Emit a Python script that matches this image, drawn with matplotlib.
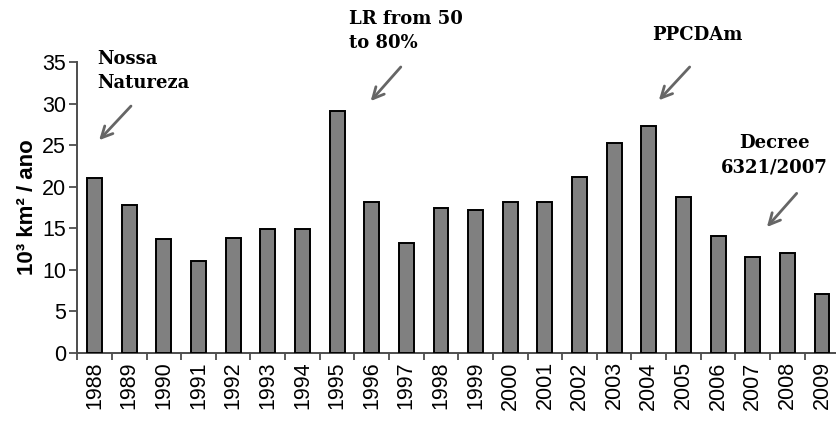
import matplotlib
matplotlib.use("Agg")
import matplotlib.pyplot as plt
import numpy as np

years = ["1988", "1989", "1990", "1991", "1992", "1993", "1994", "1995", "1996", "1997", "1998",
         "1999", "2000", "2001", "2002", "2003", "2004", "2005", "2006", "2007", "2008", "2009"]
values = [21.0, 17.8, 13.75, 11.05, 13.8, 14.9, 14.9, 29.05, 18.15, 13.2, 17.4,
          17.25, 18.2, 18.15, 21.2, 25.3, 27.35, 18.8, 14.05, 11.55, 12.0, 7.1]
yticks = [0, 5, 10, 15, 20, 25, 30, 35]

# annotations: text, text anchor (x, y), ha, arrow tail (x, y), arrow head (x, y)
annotations = [
    ("Nossa\nNatureza", (0.07, 36.45), "left", (1.05, 29.7), (0.13, 25.6)),
    ("LR from 50\nto 80%", (7.33, 41.3), "left", (8.84, 34.4), (7.97, 30.3)),
    ("PPCDAm", (16.09, 39.35), "left", (17.18, 34.4), (16.29, 30.4)),
    ("Decree\n6321/2007", (19.63, 26.35), "center", (20.27, 19.2), (19.41, 15.15)),
]

W, H = 836, 421
fig = plt.figure(figsize=(W / 100, H / 100), dpi=100)
ax = fig.add_axes([77.3 / W, 68 / H, 762 / W, 291 / H])

x = np.arange(len(years))
ax.bar(x, values, width=0.43, color="#808080", edgecolor="black", linewidth=1.4, zorder=3)

ax.set_xlim(-0.5, len(years) - 0.5)
ax.set_ylim(0, 35)
ax.set_yticks(yticks)
ax.set_yticklabels([str(v) for v in yticks], fontsize=15.5, family="Liberation Sans")
ax.set_xticks(x)
ax.set_xticklabels(years, rotation=90, fontsize=15.5, family="Liberation Sans")
ax.set_xticks(np.arange(len(years) + 1) - 0.5, minor=True)
ax.tick_params(axis="x", which="major", length=0, pad=6)
ax.tick_params(axis="x", which="minor", length=5, width=1.3, color="#4d4d4d", direction="out")
ax.tick_params(axis="y", length=6, width=1.3, color="#4d4d4d", direction="out", pad=2)

for s in ["top", "right"]:
    ax.spines[s].set_visible(False)
for s in ["left", "bottom"]:
    ax.spines[s].set_color("#4d4d4d")
    ax.spines[s].set_linewidth(1.4)

ax.set_ylabel("10³ km² / ano", fontsize=16, fontweight="bold", family="Liberation Sans", labelpad=3)

for txt, (tx, ty), ha, tail, head in annotations:
    ax.text(tx, ty, txt, ha=ha, va="top", fontsize=13, fontweight="bold",
            family="DejaVu Serif", linespacing=1.45, clip_on=False)
    ax.annotate("", xy=head, xytext=tail, xycoords="data", textcoords="data",
                annotation_clip=False,
                arrowprops=dict(arrowstyle="->,head_length=0.8,head_width=0.4",
                                color="#666666", lw=2.0, shrinkA=0, shrinkB=0))

fig.savefig("out.png", dpi=100)
